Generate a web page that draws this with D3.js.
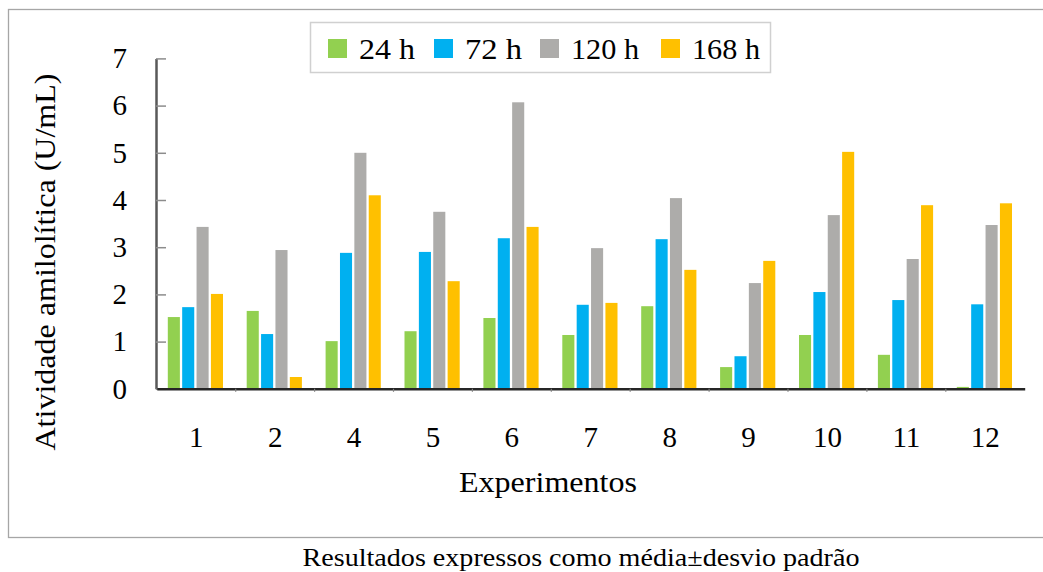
<!DOCTYPE html>
<html>
<head>
<meta charset="utf-8">
<script src="https://cdn.jsdelivr.net/npm/d3@7"></script>
<style>
  body { margin: 0; background: #fff; }
  svg text { font-family: 'Liberation Serif', 'Times New Roman', serif; fill: #000; }
</style>
</head>
<body>
<svg id="chart"></svg>
<script>
const categories = ['1', '2', '4', '5', '6', '7', '8', '9', '10', '11', '12'];
const seriesNames = ['24 h', '72 h', '120 h', '168 h'];
const h24 = [1.52, 1.65, 1.01, 1.22, 1.50, 1.14, 1.75, 0.46, 1.14, 0.72, 0.04];
const h72 = [1.73, 1.16, 2.88, 2.90, 3.19, 1.78, 3.17, 0.69, 2.05, 1.88, 1.79];
const h120 = [3.43, 2.94, 5.00, 3.75, 6.07, 2.98, 4.04, 2.24, 3.68, 2.75, 3.47];
const h168 = [2.01, 0.25, 4.10, 2.28, 3.43, 1.82, 2.52, 2.71, 5.02, 3.89, 3.93];
const yTicks = [0, 1, 2, 3, 4, 5, 6, 7];
const colors = ['#92D050', '#00B0F0', '#ADACAA', '#FFC000'];

const seriesValues = [h24, h72, h120, h168];
const width = 1043;
const height = 572;
const serif = "'Liberation Serif', 'Times New Roman', serif";

const svg = d3.select('#chart')
  .attr('width', width)
  .attr('height', height);

// outer frame
svg.append('rect')
  .attr('x', 8.5)
  .attr('y', 9.5)
  .attr('width', 1045)
  .attr('height', 528)
  .attr('fill', 'none')
  .attr('stroke', '#a6a6a6')
  .attr('stroke-width', 1.3);

const x = d3.scaleBand()
  .domain(categories)
  .range([156.8, 1024.7])
  .padding(0);
const xInner = d3.scaleBand()
  .domain(seriesNames)
  .range([11, 66.2])
  .paddingInner(0.16)
  .paddingOuter(0);
const y = d3.scaleLinear()
  .domain([0, 7])
  .range([388.8, 58.4]);

// Y axis
const yAxis = d3.axisLeft(y)
  .tickValues(yTicks)
  .tickSizeInner(-10)
  .tickSizeOuter(0)
  .tickPadding(29)
  .tickFormat(d3.format('d'));

const gy = svg.append('g')
  .attr('transform', 'translate(156, 0)')
  .call(yAxis)
  .attr('font-family', serif);
gy.select('.domain')
  .attr('stroke', '#595959')
  .attr('stroke-width', 2.5);
gy.selectAll('.tick line')
  .attr('stroke', '#8c8c8c')
  .attr('stroke-width', 1.5);
gy.selectAll('.tick text')
  .attr('font-size', 29)
  .attr('fill', '#000');

// Bars
const data = categories.map((c, i) => ({
  cat: c,
  vals: seriesNames.map((s, j) => ({ name: s, value: seriesValues[j][i], color: colors[j] })),
}));

const groups = svg.selectAll('.group')
  .data(data)
  .enter().append('g')
    .attr('class', 'group')
    .attr('transform', d => `translate(${x(d.cat)}, 0)`);

groups.selectAll('rect')
  .data(d => d.vals)
  .enter().append('rect')
    .attr('x', d => xInner(d.name))
    .attr('y', d => y(d.value))
    .attr('width', xInner.bandwidth())
    .attr('height', d => y(0) - y(d.value))
    .attr('fill', d => d.color);

// X axis
const xAxis = d3.axisBottom(x)
  .tickSize(0)
  .tickPadding(38);
const gx = svg.append('g')
  .attr('transform', `translate(0, ${y(0)})`)
  .call(xAxis)
  .attr('font-family', serif);
gx.select('.domain')
  .attr('stroke', '#262626')
  .attr('stroke-width', 2.5);
gx.selectAll('.tick text')
  .attr('font-size', 29)
  .attr('fill', '#000');

// category boundary ticks
svg.selectAll('.xsep')
  .data(categories.slice(1))
  .enter().append('line')
    .attr('x1', d => x(d))
    .attr('x2', d => x(d))
    .attr('y1', y(0))
    .attr('y2', y(0) + 3)
    .attr('stroke', '#7f7f7f')
    .attr('stroke-width', 1.2);

// Axis titles
svg.append('text')
  .attr('transform', 'translate(55, 262) rotate(-90)')
  .attr('text-anchor', 'middle')
  .attr('font-size', 30)
  .attr('textLength', 377)
  .attr('lengthAdjust', 'spacingAndGlyphs')
  .text('Atividade amilolítica (U/mL)');

svg.append('text')
  .attr('x', 548)
  .attr('y', 492)
  .attr('text-anchor', 'middle')
  .attr('font-size', 30)
  .attr('textLength', 178)
  .attr('lengthAdjust', 'spacingAndGlyphs')
  .text('Experimentos');

svg.append('text')
  .attr('x', 581)
  .attr('y', 566)
  .attr('text-anchor', 'middle')
  .attr('font-size', 26)
  .attr('textLength', 557)
  .attr('lengthAdjust', 'spacingAndGlyphs')
  .text('Resultados expressos como média±desvio padrão');

// Legend
const legend = svg.append('g');
legend.append('rect')
  .attr('x', 310.5)
  .attr('y', 22.5)
  .attr('width', 460)
  .attr('height', 50)
  .attr('fill', '#fff')
  .attr('stroke', '#d0d0d0')
  .attr('stroke-width', 1.5);

const legendX = [328, 434, 540, 661];
const legendW = [56, 57, 68, 68];
const items = legend.selectAll('.item')
  .data(seriesNames)
  .enter().append('g')
    .attr('class', 'item')
    .attr('transform', (d, i) => `translate(${legendX[i]}, 0)`);
items.append('rect')
  .attr('x', 0)
  .attr('y', 39)
  .attr('width', 19)
  .attr('height', 19)
  .attr('fill', (d, i) => colors[i]);
items.append('text')
  .attr('x', 31)
  .attr('y', 59)
  .attr('font-size', 29)
  .attr('textLength', (d, i) => legendW[i])
  .attr('lengthAdjust', 'spacingAndGlyphs')
  .text(d => d);
</script>
</body>
</html>
